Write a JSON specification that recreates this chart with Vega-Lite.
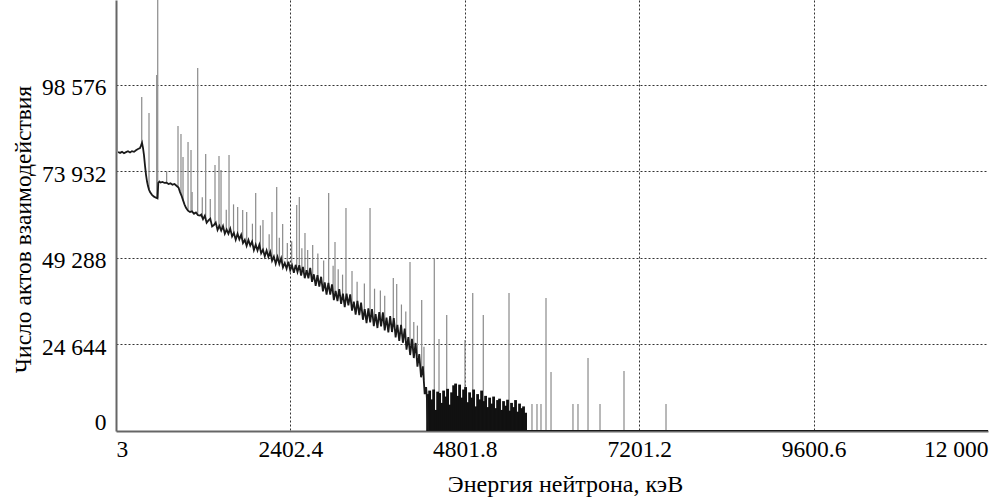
{
  "$schema": "https://vega.github.io/schema/vega-lite/v6.json",
  "width": 872,
  "height": 431,
  "autosize": "none",
  "padding": {"left": 116, "top": 0, "right": 17, "bottom": 71},
  "background": "white",
  "config": {"view": {"stroke": null}, "font": "Liberation Serif"},
  "datasets": {
    "base": [
      {"e":31,"c":79400},{"e":58,"c":79150},{"e":86,"c":79450},{"e":113,"c":79050},{"e":141,"c":79350},{"e":168,"c":79600},{"e":196,"c":79250},{"e":223,"c":79650},{"e":251,"c":79450},{"e":278,"c":79900},{"e":306,"c":80250},{"e":333,"c":80500},{"e":347,"c":81200},{"e":361,"c":82000},{"e":375,"c":80500},{"e":388,"c":78500},{"e":402,"c":75500},{"e":416,"c":72900},{"e":430,"c":71000},{"e":443,"c":69700},{"e":457,"c":68700},{"e":471,"c":68000},{"e":498,"c":67200},{"e":526,"c":66700},{"e":553,"c":66400},{"e":574,"c":66200},{"e":585,"c":70600},{"e":600,"c":71000},{"e":615,"c":70700},{"e":643,"c":70900},{"e":670,"c":70600},{"e":698,"c":70700},{"e":725,"c":70300},{"e":753,"c":70500},{"e":780,"c":70100},{"e":808,"c":70300},{"e":835,"c":69800},{"e":863,"c":69300},{"e":884,"c":68000},{"e":904,"c":67000},{"e":925,"c":65700},{"e":945,"c":64500},{"e":966,"c":63500},{"e":993,"c":62700},{"e":1021,"c":62300},{"e":1048,"c":62500},{"e":1076,"c":61800},{"e":1103,"c":62200},{"e":1131,"c":61400},{"e":1159,"c":61300},
      {"e":1175,"c":61590},{"e":1200,"c":60280},{"e":1225,"c":61270},{"e":1250,"c":59260},{"e":1275,"c":59940},{"e":1300,"c":60430},{"e":1325,"c":58220},{"e":1350,"c":58610},{"e":1375,"c":59300},{"e":1400,"c":57190},{"e":1425,"c":58380},{"e":1450,"c":57040},{"e":1475,"c":58330},{"e":1500,"c":56130},{"e":1525,"c":57320},{"e":1550,"c":56110},{"e":1575,"c":57590},{"e":1600,"c":55380},{"e":1625,"c":56370},{"e":1650,"c":54460},{"e":1675,"c":56150},{"e":1700,"c":54540},{"e":1725,"c":55830},{"e":1750,"c":53520},{"e":1775,"c":54410},{"e":1800,"c":52700},{"e":1825,"c":54390},{"e":1850,"c":52790},{"e":1875,"c":53930},{"e":1900,"c":51470},{"e":1925,"c":53010},{"e":1950,"c":51350},{"e":1975,"c":52990},{"e":2000,"c":50570},{"e":2025,"c":51610},{"e":2050,"c":49740},{"e":2075,"c":51380},{"e":2100,"c":49520},{"e":2125,"c":50960},{"e":2150,"c":48450},{"e":2175,"c":49640},{"e":2200,"c":47630},{"e":2225,"c":49520},{"e":2250,"c":47510},{"e":2275,"c":49130},{"e":2300,"c":46570},{"e":2325,"c":47810},{"e":2350,"c":46160},{"e":2375,"c":48200},{"e":2400,"c":45750},{"e":2425,"c":47100},{"e":2450,"c":45040},{"e":2475,"c":47290},{"e":2500,"c":45240},{"e":2525,"c":47180},
      {"e":2550,"c":44200},{"e":2575,"c":46690},{"e":2600,"c":43480},{"e":2625,"c":45780},{"e":2650,"c":43470},{"e":2675,"c":46430},{"e":2700,"c":42460},{"e":2725,"c":44600},{"e":2750,"c":41330},{"e":2775,"c":44370},{"e":2800,"c":41100},{"e":2825,"c":43900},{"e":2850,"c":39740},{"e":2875,"c":42270},{"e":2900,"c":38810},{"e":2925,"c":42150},{"e":2950,"c":38790},{"e":2975,"c":41720},{"e":3000,"c":37260},{"e":3025,"c":39900},{"e":3050,"c":36940},{"e":3075,"c":40380},{"e":3100,"c":36180},{"e":3125,"c":39120},{"e":3150,"c":35260},{"e":3175,"c":39100},{"e":3200,"c":35740},{"e":3225,"c":38860},{"e":3250,"c":34250},{"e":3275,"c":36840},{"e":3300,"c":33130},{"e":3325,"c":37020},{"e":3350,"c":33010},{"e":3375,"c":36520},{"e":3400,"c":31660},{"e":3425,"c":34700},{"e":3450,"c":30730},{"e":3475,"c":34870},{"e":3500,"c":30930},{"e":3525,"c":34680},{"e":3550,"c":29820},{"e":3575,"c":33270},{"e":3600,"c":29310},{"e":3625,"c":33860},{"e":3650,"c":29770},{"e":3675,"c":33760},{"e":3700,"c":28660},{"e":3725,"c":32250},{"e":3750,"c":28040},{"e":3775,"c":32720},{"e":3800,"c":28170},{"e":3825,"c":32160},{"e":3850,"c":26640},{"e":3875,"c":30230},{"e":3900,"c":25610},{"e":3925,"c":30180},{"e":3950,"c":25110},{"e":3975,"c":29140},{"e":4000,"c":23170},{"e":4025,"c":26700},{"e":4050,"c":21620},{"e":4075,"c":26200},{"e":4100,"c":20770},{"e":4125,"c":25050},{"e":4150,"c":18330},{"e":4175,"c":21900},{"e":4200,"c":15300},{"e":4225,"c":18400},{"e":4250,"c":10500},{"e":4270,"c":12500},{"e":4282,"c":8820},{"e":4300,"c":0},{"e":12000,"c":0}
    ],
    "spikes": [
      {"e":20,"c":94200,"b":79400},{"e":357,"c":95060,"b":82000},{"e":457,"c":90500,"b":68700},{"e":577,"c":125000,"b":66300},{"e":563,"c":101300,"b":66300},{"e":700,"c":74000,"b":70500},{"e":856,"c":86800,"b":69400},{"e":897,"c":84530,"b":67500},{"e":925,"c":77980,"b":65700},{"e":994,"c":82250,"b":62600},{"e":1035,"c":79970,"b":62300},{"e":1050,"c":68000,"b":62300},{"e":1127,"c":103300,"b":61500},{"e":1190,"c":66500,"b":60800},{"e":1237,"c":78830,"b":60300},{"e":1300,"c":66000,"b":59450},{"e":1365,"c":75700,"b":58650},{"e":1420,"c":78270,"b":58000},{"e":1448,"c":74280,"b":57600},{"e":1520,"c":63000,"b":56900},{"e":1558,"c":78550,"b":56700},{"e":1620,"c":64500,"b":56000},{"e":1677,"c":63750,"b":55300},{"e":1746,"c":62900,"b":54500},{"e":1801,"c":62330,"b":53800},{"e":1880,"c":59000,"b":52800},{"e":1925,"c":67740,"b":52400},{"e":1990,"c":58500,"b":51700},{"e":2025,"c":60050,"b":51200},{"e":2110,"c":56000,"b":50000},{"e":2149,"c":62330,"b":49500},{"e":2214,"c":69440,"b":48700},{"e":2250,"c":55000,"b":48200},{"e":2296,"c":58910,"b":47700},{"e":2360,"c":53500,"b":47000},{"e":2420,"c":54000,"b":46500},{"e":2489,"c":64320,"b":46100},{"e":2525,"c":66600,"b":45900},{"e":2560,"c":52000,"b":45600},{"e":2603,"c":56350,"b":45400},{"e":2640,"c":51500,"b":44900},{"e":2709,"c":52940,"b":44000},{"e":2780,"c":50500,"b":42700},{"e":2860,"c":48500,"b":41400},{"e":2929,"c":67740,"b":40400},{"e":2990,"c":47000,"b":39500},{"e":3016,"c":53790,"b":39100},{"e":3060,"c":46000,"b":38500},{"e":3120,"c":44500,"b":37700},{"e":3167,"c":63470,"b":37300},{"e":3250,"c":45500,"b":36300},{"e":3320,"c":42500,"b":35100},{"e":3420,"c":42000,"b":33600},{"e":3498,"c":63470,"b":32400},{"e":3560,"c":40500,"b":32000},{"e":3640,"c":40000,"b":31500},{"e":3700,"c":38500,"b":31000},{"e":3818,"c":43540,"b":29700},{"e":3865,"c":41840,"b":29000},{"e":3930,"c":36000,"b":27700},{"e":3990,"c":34000,"b":26000},{"e":4048,"c":48100,"b":24500},{"e":4100,"c":31000,"b":23000},{"e":4150,"c":30000,"b":21100},{"e":4209,"c":37280,"b":17500},{"e":4240,"c":24000,"b":14500},
      {"e":4382,"c":49240,"b":0},{"e":4447,"c":26180,"b":0},{"e":4553,"c":33010,"b":0},{"e":4804,"c":25900,"b":0},{"e":4911,"c":39270,"b":0},{"e":5056,"c":33010,"b":0},{"e":5410,"c":39270,"b":0},{"e":5919,"c":37850,"b":0},{"e":5988,"c":16790,"b":0},{"e":6497,"c":20780,"b":0},{"e":6992,"c":17080,"b":0},{"e":5726,"c":7680,"b":0},{"e":5795,"c":7680,"b":0},{"e":5850,"c":7680,"b":0},{"e":6290,"c":7680,"b":0},{"e":6359,"c":7680,"b":0},{"e":6662,"c":7680,"b":0},{"e":7570,"c":7680,"b":0}
    ],
    "block": [
      {"e":4290,"c":10500},{"e":4318,"c":11500},{"e":4345,"c":9000},{"e":4373,"c":11800},{"e":4400,"c":6000},{"e":4428,"c":11200},{"e":4455,"c":10800},{"e":4483,"c":8000},{"e":4510,"c":11500},{"e":4538,"c":9800},{"e":4565,"c":12000},{"e":4593,"c":7500},{"e":4620,"c":11000},{"e":4648,"c":13000},{"e":4675,"c":13500},{"e":4703,"c":10000},{"e":4730,"c":13200},{"e":4758,"c":9500},{"e":4785,"c":11800},{"e":4813,"c":12500},{"e":4840,"c":8200},{"e":4868,"c":11000},{"e":4895,"c":9500},{"e":4923,"c":11800},{"e":4950,"c":7000},{"e":4978,"c":10500},{"e":5005,"c":9000},{"e":5033,"c":11500},{"e":5060,"c":8500},{"e":5088,"c":10000},{"e":5115,"c":6800},{"e":5143,"c":9500},{"e":5170,"c":7800},{"e":5198,"c":9800},{"e":5225,"c":6500},{"e":5253,"c":8800},{"e":5280,"c":9200},{"e":5308,"c":6000},{"e":5335,"c":8500},{"e":5363,"c":7200},{"e":5390,"c":8900},{"e":5418,"c":5800},{"e":5445,"c":8000},{"e":5473,"c":6800},{"e":5500,"c":8800},{"e":5528,"c":5500},{"e":5555,"c":7800},{"e":5583,"c":6500},{"e":5610,"c":7000},{"e":5638,"c":5200}
    ]
  },
  "encoding": {
    "x": {
      "field": "e", "type": "quantitative",
      "scale": {"domain": [3, 12000], "nice": false, "zero": false},
      "axis": {
        "values": [3, 2402.4, 4801.8, 7201.2, 9600.6, 12000],
        "labelExpr": "datum.value == 12000 ? '12 000' : datum.value == 3 ? '3' : format(datum.value, '.1f')",
        "labelFlush": true, "ticks": false, "grid": true,
        "gridDash": [2, 2], "gridColor": "#333", "gridWidth": 1,
        "gridOpacity": {"condition": {"test": "datum.value == 12000 || datum.value == 3", "value": 0}, "value": 1},
        "domainColor": "#666", "domainWidth": 2,
        "labelFont": "Liberation Serif", "labelFontSize": 23.5, "labelColor": "#000", "labelPadding": 6,
        "title": "Энергия нейтрона, кэВ", "titleFont": "Liberation Serif", "titleFontSize": 24,
        "titleFontWeight": "normal", "titleColor": "#000", "titlePadding": 12, "titleX": 449
      }
    },
    "y": {
      "field": "c", "type": "quantitative",
      "scale": {"domain": [0, 122660], "nice": false, "zero": true},
      "axis": {
        "values": [0, 24644, 49288, 73932, 98576],
        "labelExpr": "replace(format(datum.value, ','), ',', ' ')",
        "labelFlush": true, "ticks": false, "grid": true,
        "gridDash": [2, 2], "gridColor": "#333", "gridWidth": 1,
        "gridOpacity": {"condition": {"test": "datum.value == 0", "value": 0}, "value": 1},
        "domainColor": "#666", "domainWidth": 2,
        "labelFont": "Liberation Serif", "labelFontSize": 23.5, "labelColor": "#000", "labelPadding": 10, "labelOffset": 3,
        "title": "Число актов взаимодействия", "titleFont": "Liberation Serif", "titleFontSize": 23.5,
        "titleFontWeight": "normal", "titleColor": "#000", "titlePadding": 6, "titleY": 229
      }
    }
  },
  "layer": [
    {
      "data": {"name": "spikes"},
      "mark": {"type": "rule", "color": "#8a8a8a", "strokeWidth": 1.2, "clip": true},
      "encoding": {"y2": {"field": "b"}}
    },
    {
      "data": {"name": "block"},
      "mark": {"type": "rule", "color": "#111", "strokeWidth": 2.8, "clip": true},
      "encoding": {"y2": {"datum": 0}}
    },
    {
      "data": {"name": "base"},
      "mark": {"type": "line", "color": "#1a1a1a", "strokeWidth": 1.8, "clip": true}
    }
  ]
}
